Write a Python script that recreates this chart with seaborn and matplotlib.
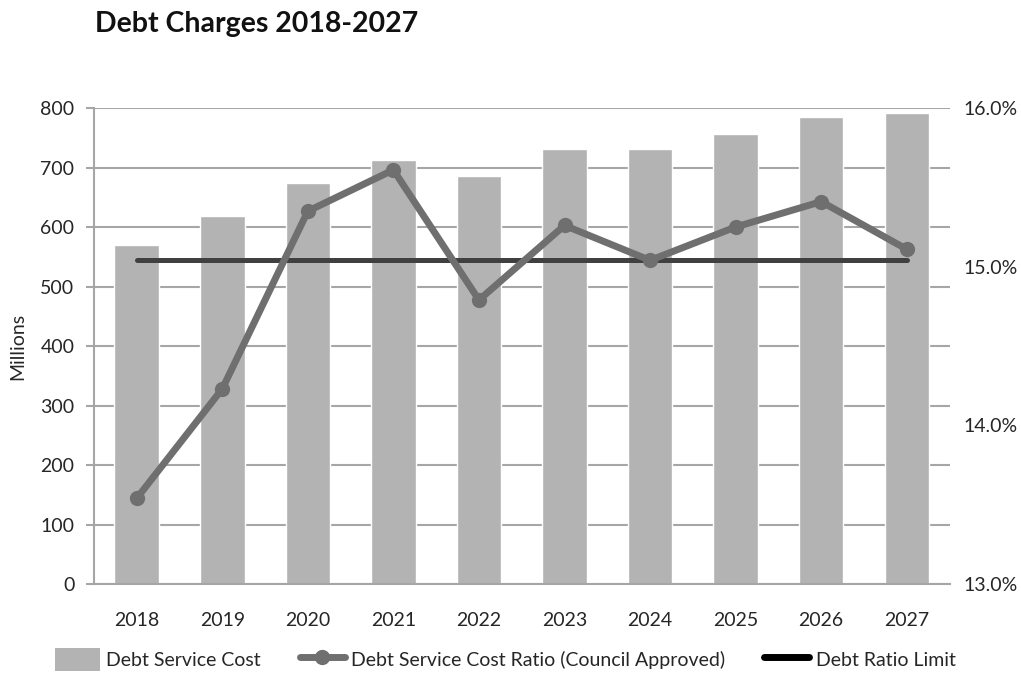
import numpy as np
import pandas as pd
import matplotlib
matplotlib.use("Agg")
import matplotlib.pyplot as plt
from matplotlib.ticker import FixedLocator, FuncFormatter
from matplotlib.lines import Line2D
from matplotlib.patches import Patch
import seaborn as sns

years = ["2018", "2019", "2020", "2021", "2022", "2023", "2024", "2025", "2026", "2027"]
service_cost = [570, 618, 674, 713, 686, 731, 731, 756, 785, 792]          # millions
cost_ratio = [13.54, 14.23, 15.35, 15.61, 14.79, 15.26, 15.04, 15.25, 15.41, 15.11]  # %
ratio_limit = [15.04] * len(years)                                           # %

sns.set_theme(style="white")
plt.rcParams["font.family"] = ["Lato", "DejaVu Sans"]

BAR = "#b3b3b3"
RATIO = "#6f6f6f"
LIMIT = "#404040"
GRID = "#a6a6a6"
TXT = "#262626"
FS = 14

df = pd.DataFrame({"year": years, "cost": service_cost,
                   "ratio": cost_ratio, "limit": ratio_limit})
df["pos"] = np.arange(len(df))

fig = plt.figure(figsize=(10.21, 6.73), dpi=100)
ax = fig.add_axes([0.092, 0.1322, 0.838, 0.7073])

sns.barplot(data=df, x="year", y="cost", color=BAR, width=0.52,
            saturation=1, ax=ax, zorder=2)
ax.set_xlim(-0.5, len(years) - 0.5)
ax.set_ylim(0, 800)
ax.set_yticks(range(0, 801, 100))
ax.grid(axis="y", color=GRID, linewidth=1.5, zorder=0)
ax.set_axisbelow(True)
ax.set_xlabel("")
ax.set_ylabel("Millions", fontsize=FS, color=TXT, labelpad=10)

for s in ["top", "right"]:
    ax.spines[s].set_visible(False)
for s in ["left", "bottom"]:
    ax.spines[s].set_color(GRID)
    ax.spines[s].set_linewidth(1.5)

ax.tick_params(axis="y", which="major", length=6, width=1.5, color=GRID,
               labelsize=FS, labelcolor=TXT, pad=8)
ax.tick_params(axis="x", which="major", length=0, labelsize=FS,
               labelcolor=TXT, pad=20)
ax.xaxis.set_minor_locator(FixedLocator(np.arange(-0.5, len(years), 1.0)))
ax.tick_params(axis="x", which="minor", length=6, width=1.5, color=GRID,
               direction="out")

ax2 = ax.twinx()
ax2.set_zorder(ax.get_zorder() + 1)
ax2.patch.set_visible(False)

sns.lineplot(data=df, x="pos", y="limit", color=LIMIT, linewidth=3.6,
             ax=ax2, zorder=3, legend=False)
sns.lineplot(data=df, x="pos", y="ratio", color=RATIO, linewidth=5,
             marker="o", markersize=11, markeredgewidth=0,
             markerfacecolor=RATIO, ax=ax2, zorder=4, legend=False)

ax2.set_ylim(13.0, 16.0)
ax2.set_yticks([13.0, 14.0, 15.0, 16.0])
ax2.yaxis.set_major_formatter(FuncFormatter(lambda v, _: f"{v:.1f}%"))
ax2.tick_params(axis="y", length=0, labelsize=FS, labelcolor=TXT, pad=10)
ax2.set_ylabel("")
ax2.set_xlabel("")
ax2.grid(False)
for s in ax2.spines.values():
    s.set_visible(False)
ax2.set_xlim(-0.5, len(years) - 0.5)

fig.text(0.093, 0.965, "Debt Charges 2018-2027", fontsize=20.5,
         fontweight="bold", color="#111111", va="center", ha="left")

handles = [
    Patch(facecolor=BAR, edgecolor="none"),
    Line2D([0], [0], color=RATIO, linewidth=5, marker="o", markersize=11,
           markeredgewidth=0),
    Line2D([0], [0], color="#000000", linewidth=5),
]
labels = ["Debt Service Cost", "Debt Service Cost Ratio (Council Approved)",
          "Debt Ratio Limit"]
leg = fig.legend(handles, labels, loc="center", bbox_to_anchor=(0.495, 0.02),
                 ncol=3, frameon=False, handlelength=2.3,
                 handleheight=1.4, columnspacing=2.0, handletextpad=0.35,
                 prop={"size": FS})
for t in leg.get_texts():
    t.set_color(TXT)

fig.savefig("out.png", dpi=100)
